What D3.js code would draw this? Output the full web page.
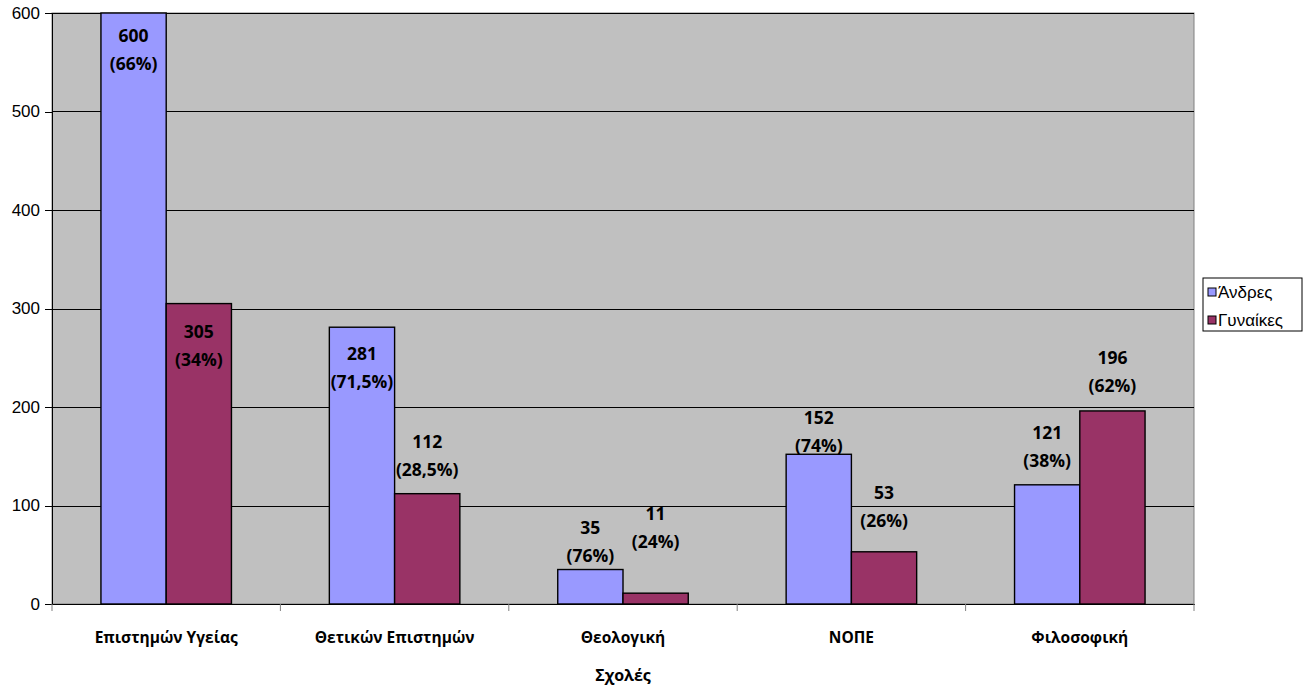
<!DOCTYPE html>
<html lang="el">
<head>
<meta charset="utf-8">
<title>Σχολές</title>
<script src="https://cdn.jsdelivr.net/npm/d3@7"></script>
<style>
  body { margin: 0; background: #fff; }
  .axis text { font-family: "Liberation Sans", Arial, sans-serif; font-size: 17px; fill: #000; }
  .axis path, .axis line { stroke: #000; shape-rendering: crispEdges; }
  .lbl { font-family: "Open Sans", Lato, sans-serif; font-weight: bold; font-size: 17.5px; fill: #000; }
</style>
</head>
<body>
<script>
// data
var categories = ["Επιστημών Υγείας", "Θετικών Επιστημών", "Θεολογική", "ΝΟΠΕ", "Φιλοσοφική"];
var seriesNames = ["Άνδρες", "Γυναίκες"];
var andres = [600, 281, 35, 152, 121];
var gynaikes = [305, 112, 11, 53, 196];
var andresPct = ["66%", "71,5%", "76%", "74%", "38%"];
var gynaikesPct = ["34%", "28,5%", "24%", "26%", "62%"];
var yTicks = [0, 100, 200, 300, 400, 500, 600];

// label offsets (px, first line centre relative to bar top), as placed in the original
var andresDy = [23, 27, -42, -36, -52];
var gynaikesDy = [28, -52, -79, -59, -53];

var width = 1309, height = 686;
var m = { left: 52, right: 115, top: 13, bottom: 82 };
var colors = ["#9999FF", "#993366"];

var svg = d3.select("body").append("svg")
  .attr("width", width).attr("height", height);

var x = d3.scaleBand().domain(categories)
  .range([m.left, width - m.right]).paddingInner(0).paddingOuter(0);
var x1 = d3.scaleBand().domain(seriesNames)
  .range([0, x.bandwidth()]).paddingInner(0).paddingOuter(0.75);
var y = d3.scaleLinear().domain([0, 600]).range([height - m.bottom, m.top]);

// plot background
svg.append("rect")
  .attr("x", m.left).attr("y", m.top)
  .attr("width", width - m.right - m.left).attr("height", height - m.bottom - m.top)
  .attr("fill", "#C0C0C0")
  .attr("stroke", "#808080");

// gridlines
svg.append("g").selectAll("line").data(yTicks.slice(1)).enter().append("line")
  .attr("x1", m.left).attr("x2", width - m.right)
  .attr("y1", function (d) { return Math.round(y(d)) + 0.5; })
  .attr("y2", function (d) { return Math.round(y(d)) + 0.5; })
  .attr("stroke", "#000");

// bars
var rows = categories.map(function (c, i) {
  return [
    { cat: c, s: seriesNames[0], v: andres[i], p: andresPct[i], dy: andresDy[i], k: 0 },
    { cat: c, s: seriesNames[1], v: gynaikes[i], p: gynaikesPct[i], dy: gynaikesDy[i], k: 1 }
  ];
});

var groups = svg.append("g").selectAll("g").data(rows).enter().append("g")
  .attr("transform", function (d) { return "translate(" + x(d[0].cat) + ",0)"; });

groups.selectAll("rect").data(function (d) { return d; }).enter().append("rect")
  .attr("x", function (d) { return x1(d.s); })
  .attr("y", function (d) { return y(d.v); })
  .attr("width", x1.bandwidth())
  .attr("height", function (d) { return y(0) - y(d.v); })
  .attr("fill", function (d) { return colors[d.k]; })
  .attr("stroke", "#000").attr("stroke-width", 1.4);

var lbl = groups.selectAll("text").data(function (d) { return d; }).enter().append("text")
  .attr("class", "lbl")
  .attr("text-anchor", "middle")
  .attr("x", function (d) { return x1(d.s) + x1.bandwidth() / 2; })
  .attr("y", function (d) { return y(d.v) + d.dy; });
lbl.append("tspan")
  .attr("x", function (d) { return x1(d.s) + x1.bandwidth() / 2; })
  .attr("dy", "0.35em")
  .text(function (d) { return d.v; });
lbl.append("tspan")
  .attr("x", function (d) { return x1(d.s) + x1.bandwidth() / 2; })
  .attr("dy", 28)
  .text(function (d) { return "(" + d.p + ")"; });

// y axis
var yAxis = svg.append("g").attr("class", "axis")
  .attr("transform", "translate(" + m.left + ",0)")
  .call(d3.axisLeft(y).tickValues(yTicks).tickSize(7).tickPadding(5));
yAxis.select(".domain").attr("stroke", "#808080");

// x axis
var xAxis = svg.append("g").attr("class", "axis")
  .attr("transform", "translate(0," + y(0) + ")")
  .call(d3.axisBottom(x).tickSize(0).tickPadding(28));
xAxis.select(".domain").attr("stroke", "#808080");
xAxis.selectAll("text").style("font-family", "'Open Sans', Lato, sans-serif")
  .style("font-weight", "bold").style("font-size", "15.5px");
// tick marks between categories
svg.append("g").selectAll("line").data(d3.range(categories.length + 1)).enter().append("line")
  .attr("x1", function (i) { return m.left + i * x.step(); })
  .attr("x2", function (i) { return m.left + i * x.step(); })
  .attr("y1", y(0)).attr("y2", y(0) + 7)
  .attr("stroke", "#808080");

// x title
svg.append("text")
  .attr("x", (m.left + width - m.right) / 2).attr("y", 681)
  .attr("text-anchor", "middle")
  .style("font-family", "'Open Sans', Lato, sans-serif")
  .style("font-weight", "bold").style("font-size", "16px")
  .text("Σχολές");

// legend
var lg = svg.append("g").attr("transform", "translate(1203,278)");
lg.append("rect").attr("width", 99).attr("height", 53)
  .attr("fill", "#fff").attr("stroke", "#000");
var li = lg.selectAll("g").data(seriesNames).enter().append("g")
  .attr("transform", function (d, i) { return "translate(5," + (10 + i * 28) + ")"; });
li.append("rect").attr("width", 8).attr("height", 8)
  .attr("fill", function (d, i) { return colors[i]; })
  .attr("stroke", "#000");
li.append("text").attr("x", 10).attr("y", 4).attr("dy", "0.35em")
  .style("font-family", "'Liberation Sans', Arial, sans-serif").style("font-size", "17px")
  .text(function (d) { return d; });
</script>
</body>
</html>
